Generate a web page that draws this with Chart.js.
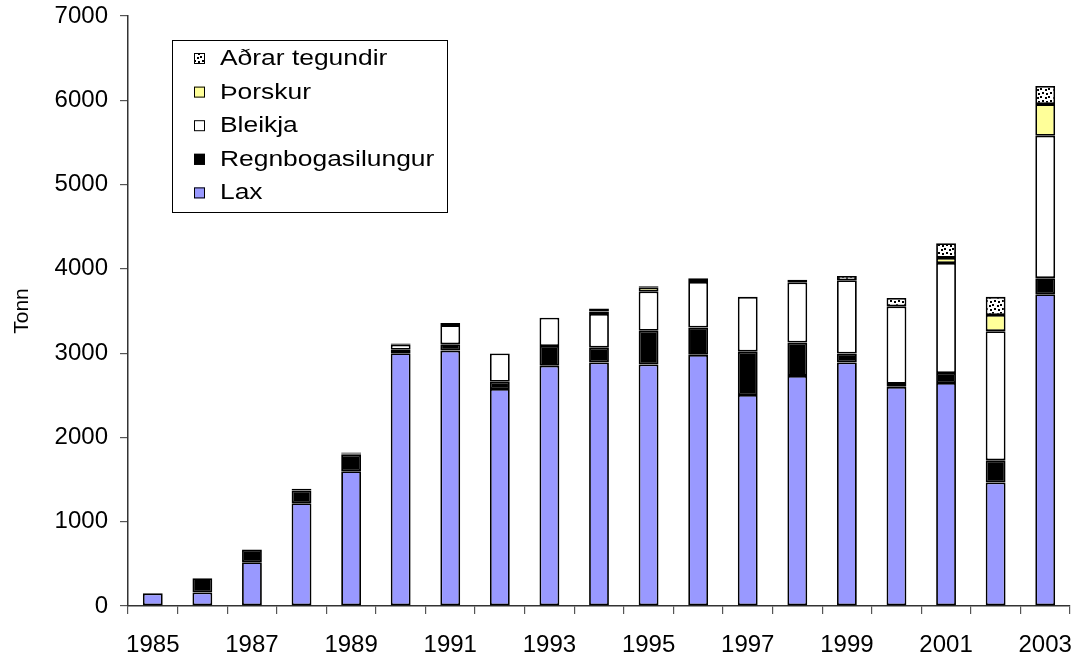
<!DOCTYPE html>
<html>
<head>
<meta charset="utf-8">
<script src="https://cdn.jsdelivr.net/npm/chart.js@4/dist/chart.umd.min.js"></script>
<style>
  html, body { margin: 0; padding: 0; background: #fff; }
  #wrap { width: 1079px; height: 659px; }
</style>
</head>
<body>
<div id="wrap"><canvas id="fishChart" width="1079" height="659"></canvas></div>
<script>
// data (tonn)
var years = ['1985','1986','1987','1988','1989','1990','1991','1992','1993','1994',
             '1995','1996','1997','1998','1999','2000','2001','2002','2003'];
var lax      = [150, 160, 520, 1220, 1600, 3000, 3030, 2575, 2850, 2890, 2866, 2980, 2503, 2730, 2890, 2600, 2645, 1465, 3700];
var regnbogi = [0, 170, 150, 150, 195, 40, 75, 85, 235, 175, 400, 325, 515, 395, 105, 35, 120, 263, 190];
var bleikja  = [0, 0, 0, 20, 15, 60, 228, 335, 335, 400, 467, 540, 650, 715, 870, 920, 1305, 1533, 1690];
var thorskur = [0, 0, 0, 0, 0, 0, 0, 0, 0, 30, 50, 45, 0, 0, 0, 0, 60, 192, 375];
var adrar    = [0, 0, 0, 0, 10, 15, 25, 0, 0, 35, 10, 0, 0, 30, 50, 100, 175, 215, 215];
var yTicks = [0, 1000, 2000, 3000, 4000, 5000, 6000, 7000];

var FONT = "'Liberation Sans', Arial, sans-serif";

// dotted fill for "Aðrar tegundir"
var pc = document.createElement('canvas');
pc.width = 8; pc.height = 8;
var pctx = pc.getContext('2d');
pctx.fillStyle = '#fff';
pctx.fillRect(0, 0, 8, 8);
pctx.fillStyle = '#000';
pctx.fillRect(0, 0, 2, 2);
pctx.fillRect(5, 1, 2, 2);
pctx.fillRect(2, 4, 2, 2);
pctx.fillRect(6, 5, 2, 2);
var dots = pctx.createPattern(pc, 'repeat');

var ctx = document.getElementById('fishChart').getContext('2d');

// legend box inside the plot, top-down order like the original
var boxLegend = {
    id: 'boxLegend',
    afterDraw: function(chart) {
        var c = chart.ctx;
        var x0 = 172, y0 = 40, w = 275, h = 172;
        c.save();
        c.fillStyle = '#fff';
        c.fillRect(x0, y0, w, h);
        c.strokeStyle = '#000';
        c.lineWidth = 1;
        c.strokeRect(x0 + 0.5, y0 + 0.5, w, h);
        c.textBaseline = 'middle';
        var ds = chart.data.datasets;
        for (var i = 0; i < ds.length; i++) {
            var d = ds[ds.length - 1 - i];
            var cy = y0 + 18 + i * 33.6;
            c.fillStyle = d.backgroundColor;
            c.fillRect(194, cy - 5, 11, 11);
            c.strokeStyle = '#000';
            c.strokeRect(194.5, cy - 4.5, 10, 10);
            // the original text is a bit wide, stretch it sideways
            c.save();
            c.translate(220, cy + 1);
            c.scale(1.2, 1);
            c.font = '22px ' + FONT;
            c.fillStyle = '#000';
            c.fillText(d.label, 0, 0);
            c.restore();
        }
        c.restore();
    }
};

function seg(label, values, fill) {
    return {
        label: label,
        data: values,
        backgroundColor: fill,
        borderColor: '#000',
        borderWidth: 1.8,
        borderSkipped: false,
        barPercentage: 0.4,
        categoryPercentage: 1.0
    };
}

var fishChart = new Chart(ctx, {
    type: 'bar',
    data: {
        labels: years,
        datasets: [
            seg('Lax', lax, '#9999ff'),
            seg('Regnbogasilungur', regnbogi, '#000000'),
            seg('Bleikja', bleikja, '#ffffff'),
            seg('Þorskur', thorskur, '#ffff99'),
            seg('Aðrar tegundir', adrar, dots)
        ]
    },
    options: {
        responsive: false,
        animation: false,
        layout: { padding: { left: 0, right: 9, top: 16, bottom: 0 } },
        plugins: {
            legend: { display: false },
            tooltip: { enabled: false }
        },
        scales: {
            x: {
                stacked: true,
                afterFit: function(scale) {
                    scale.height = 53;
                    scale.paddingLeft = 0;
                    scale.paddingRight = 0;
                },
                border: { display: true, color: '#333', width: 1.5 },
                grid: { display: true, offset: true, drawOnChartArea: false, drawTicks: true, tickLength: 8, color: '#555', lineWidth: 1.2 },
                ticks: {
                    autoSkip: false,
                    maxRotation: 0,
                    padding: 17,
                    color: '#000',
                    font: { family: FONT, size: 24 },
                    callback: function(v, i) { return i % 2 === 0 ? years[i] : ''; }
                }
            },
            y: {
                stacked: true,
                min: 0,
                max: 7000,
                afterFit: function(scale) {
                    scale.width = 128;
                    scale.paddingTop = 0;
                    scale.paddingBottom = 0;
                },
                afterBuildTicks: function(scale) {
                    scale.ticks = yTicks.map(function(v) { return { value: v }; });
                },
                border: { display: true, color: '#333', width: 1.5 },
                grid: { display: true, drawOnChartArea: false, drawTicks: true, tickLength: 8, color: '#555', lineWidth: 1.2 },
                ticks: {
                    padding: 12,
                    color: '#000',
                    font: { family: FONT, size: 24 },
                    callback: function(v) { return String(v); }
                },
                title: {
                    display: true,
                    text: 'Tonn',
                    color: '#000',
                    padding: { top: 10, bottom: 0 },
                    font: { family: FONT, size: 21 }
                }
            }
        }
    },
    plugins: [boxLegend]
});
</script>
</body>
</html>
